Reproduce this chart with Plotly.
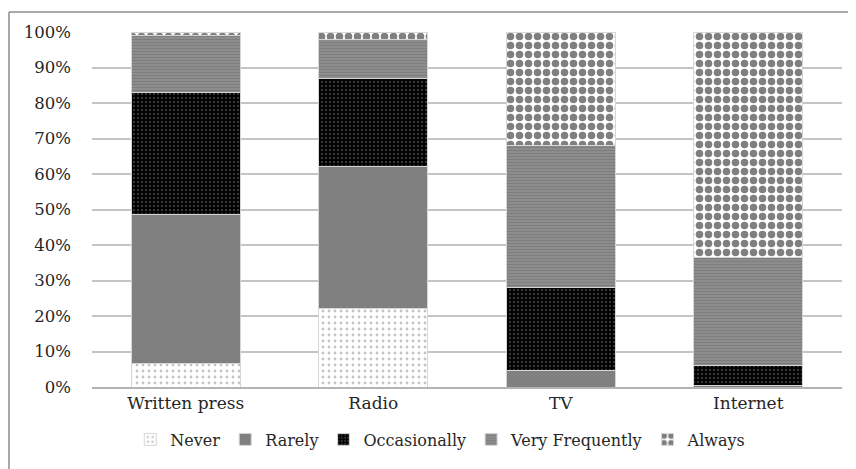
import plotly.graph_objects as go

categories = ["Written press", "Radio", "TV", "Internet"]
never = [6.5, 22.0, 0.0, 0.0]
rarely = [42.0, 40.0, 4.6, 0.5]
occasionally = [34.5, 25.0, 23.5, 5.5]
very_frequently = [16.0, 11.0, 40.0, 30.5]
always = [1.0, 2.0, 31.9, 63.5]
series_names = ["Never", "Rarely", "Occasionally", "Very Frequently", "Always"]
tick_vals = [0, 10, 20, 30, 40, 50, 60, 70, 80, 90, 100]
tick_text = [f"{v}%" for v in tick_vals]

styles = [
    dict(color="white", pattern=dict(shape=".", fgcolor="#8a8a8a", bgcolor="white", size=6, solidity=0.18)),
    dict(color="#808080"),
    dict(color="black", pattern=dict(shape=".", fgcolor="#6a6a6a", bgcolor="black", size=4, solidity=0.3)),
    dict(color="#8a8a8a", pattern=dict(shape="-", fgcolor="#6c6c6c", bgcolor="#8e8e8e", size=3, solidity=0.4)),
    dict(color="white", pattern=dict(shape=".", fgcolor="black", bgcolor="white", size=9, solidity=0.55)),
]

fig = go.Figure()
for name, vals, st in zip(series_names, [never, rarely, occasionally, very_frequently, always], styles):
    marker = dict(st)
    marker["line"] = dict(color="#d6d6d6", width=1)
    fig.add_trace(go.Bar(x=categories, y=vals, name=name, marker=marker, width=0.58))

txt = "#262626"
fig.update_layout(
    barmode="stack",
    width=848, height=461,
    margin=dict(l=84, r=14, t=24, b=82),
    paper_bgcolor="white", plot_bgcolor="white",
    font=dict(family="DejaVu Serif", size=15, color=txt),
    showlegend=True,
    legend=dict(orientation="h", x=0.465, xanchor="center", y=-0.1, yanchor="top",
                font=dict(size=16, color=txt), itemwidth=30, traceorder="normal"),
    yaxis=dict(range=[0, 100], tickvals=tick_vals, ticktext=tick_text, showgrid=True,
               gridcolor="#c4c4c4", gridwidth=1.5, zeroline=False, showline=False,
               ticks="", ticklabelstandoff=20, automargin=False,
               tickfont=dict(size=16.5, color=txt)),
    xaxis=dict(showline=True, linecolor="#b4b4b4", linewidth=1.5, ticks="", automargin=False,
               tickfont=dict(size=17, color=txt), range=[-0.5, 3.5]),
    shapes=[
        dict(type="line", xref="paper", yref="paper", x0=-0.1107, x1=1.2, y0=1.0563, y1=1.0563,
             line=dict(color="#8c8c8c", width=1.5)),
        dict(type="line", xref="paper", yref="paper", x0=-0.1107, x1=-0.1107, y0=1.0563, y1=-0.4,
             line=dict(color="#8c8c8c", width=1.5)),
    ],
)

fig.write_html("out.html")
